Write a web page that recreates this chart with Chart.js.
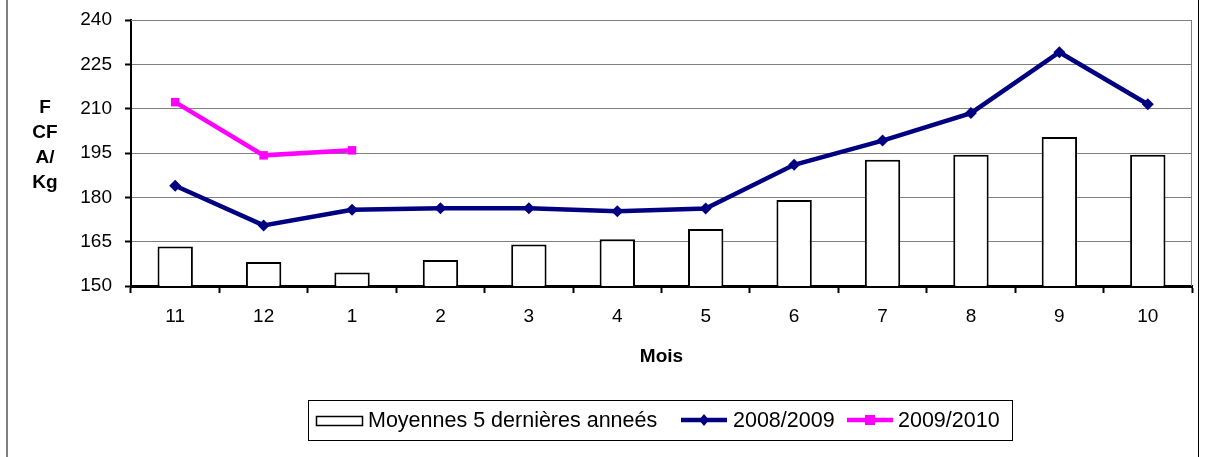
<!DOCTYPE html>
<html>
<head>
<meta charset="utf-8">
<script src="https://cdn.jsdelivr.net/npm/chart.js@4.4.1/dist/chart.umd.min.js"></script>
<style>
  html, body { margin: 0; padding: 0; background: #fff; }
  canvas { display: block; }
</style>
</head>
<body>
<canvas id="c" width="1206" height="457"></canvas>
<script>
const months = ['11', '12', '1', '2', '3', '4', '5', '6', '7', '8', '9', '10'];
const moyennes = [163.4, 158.1, 154.6, 158.8, 164.0, 165.8, 169.3, 179.1, 192.7, 194.4, 200.4, 194.4];
const s2008 = [183.9, 170.5, 175.8, 176.3, 176.3, 175.3, 176.2, 191.0, 199.2, 208.5, 229.1, 211.5];
const s2009 = [212.2, 194.2, 195.9, null, null, null, null, null, null, null, null, null];
const yTicks = [150, 165, 180, 195, 210, 225, 240];
const labels = ['Moyennes 5 dernières anneés', '2008/2009', '2009/2010'];
const yTitle = ['F', 'CF', 'A/', 'Kg'];
const xTitle = 'Mois';

const FONT = '"Liberation Sans", Arial, sans-serif';

const decor = {
  id: 'decor',
  beforeDraw(chart) {
    const ctx = chart.ctx;
    ctx.save();
    ctx.fillStyle = '#fff';
    ctx.fillRect(0, 0, chart.width, chart.height);
    ctx.fillStyle = '#808080';
    ctx.fillRect(6, 0, 2, chart.height);
    ctx.fillStyle = '#000';
    ctx.fillRect(1198, 0, 1, chart.height);
    ctx.restore();
  },
  beforeDatasetsDraw(chart) {
    const ctx = chart.ctx, a = chart.chartArea;
    ctx.save();
    ctx.strokeStyle = '#808080';
    ctx.lineWidth = 1;
    ctx.beginPath();
    ctx.moveTo(a.left, a.top + 0.5);
    ctx.lineTo(a.right - 0.5, a.top + 0.5);
    ctx.lineTo(a.right - 0.5, a.bottom);
    ctx.stroke();
    ctx.restore();
  },
  afterDraw(chart) {
    const ctx = chart.ctx;
    ctx.save();
    ctx.fillStyle = '#000';
    ctx.textAlign = 'center';
    ctx.textBaseline = 'middle';
    ctx.font = 'bold 19px ' + FONT;
    yTitle.forEach((t, i) => ctx.fillText(t, 45, 108 + i * 25));
    ctx.fillText(xTitle, (chart.chartArea.left + chart.chartArea.right) / 2, 357);

    const ds = chart.data.datasets;
    ctx.strokeStyle = '#000';
    ctx.lineWidth = 1;
    ctx.strokeRect(308.5, 400.5, 704, 40);
    ctx.font = '21.5px ' + FONT;
    ctx.textAlign = 'left';
    const cy = 421;
    ctx.strokeStyle = ds[0].borderColor;
    ctx.lineWidth = 1.5;
    ctx.strokeRect(316.5, 416.5, 46, 9);
    ctx.fillStyle = '#000';
    ctx.fillText(ds[0].label, 368, cy);
    function lineSwatch(x0, x1, color, shape, textX, text) {
      ctx.strokeStyle = color;
      ctx.lineWidth = 4.5;
      ctx.beginPath();
      ctx.moveTo(x0, cy - 1);
      ctx.lineTo(x1, cy - 1);
      ctx.stroke();
      ctx.fillStyle = color;
      const mx = (x0 + x1) / 2;
      if (shape === 'diamond') {
        ctx.beginPath();
        ctx.moveTo(mx, cy - 7);
        ctx.lineTo(mx + 5, cy - 1);
        ctx.lineTo(mx, cy + 5);
        ctx.lineTo(mx - 5, cy - 1);
        ctx.closePath();
        ctx.fill();
      } else {
        ctx.fillRect(mx - 5, cy - 6, 10, 10);
      }
      ctx.fillStyle = '#000';
      ctx.fillText(text, textX, cy);
    }
    lineSwatch(681, 727, ds[1].borderColor, 'diamond', 733, ds[1].label);
    lineSwatch(847, 893, ds[2].borderColor, 'square', 898, ds[2].label);
    ctx.restore();
  }
};

new Chart(document.getElementById('c'), {
  data: {
    labels: months,
    datasets: [
      {
        type: 'bar',
        label: labels[0],
        data: moyennes,
        backgroundColor: '#ffffff',
        borderColor: '#000000',
        borderWidth: 2,
        barPercentage: 0.8,
        categoryPercentage: 0.5,
        order: 3
      },
      {
        type: 'line',
        label: labels[1],
        data: s2008,
        borderColor: '#000080',
        backgroundColor: '#000080',
        borderWidth: 4.5,
        pointStyle: 'rectRot',
        pointRadius: 6,
        pointBorderWidth: 0,
        tension: 0,
        order: 2
      },
      {
        type: 'line',
        label: labels[2],
        data: s2009,
        borderColor: '#FF00FF',
        backgroundColor: '#FF00FF',
        borderWidth: 4.5,
        pointStyle: 'rect',
        pointRadius: 6,
        pointBorderWidth: 0,
        tension: 0,
        spanGaps: false,
        order: 1
      }
    ]
  },
  options: {
    responsive: false,
    animation: false,
    layout: { padding: { left: 0, right: 14, top: 20, bottom: 0 } },
    plugins: {
      legend: { display: false },
      tooltip: { enabled: false }
    },
    scales: {
      x: {
        type: 'category',
        offset: true,
        afterFit(scale) { scale.height = 171; scale.paddingLeft = 0; scale.paddingRight = 0; },
        grid: {
          offset: true,
          drawOnChartArea: false,
          drawTicks: true,
          tickLength: 7,
          tickColor: '#000',
          tickWidth: 2
        },
        border: { display: true, color: '#000', width: 3 },
        ticks: {
          color: '#000',
          padding: 12,
          maxRotation: 0,
          font: { family: FONT, size: 19 }
        }
      },
      y: {
        min: 150,
        max: 240,
        afterFit(scale) { scale.width = 131; scale.paddingTop = 0; scale.paddingBottom = 0; },
        afterBuildTicks(scale) { scale.ticks = yTicks.map(v => ({ value: v })); },
        grid: {
          color: '#808080',
          lineWidth: 1,
          drawTicks: true,
          tickLength: 6,
          tickColor: '#000',
          tickWidth: 2
        },
        border: { display: true, color: '#000', width: 2 },
        ticks: {
          color: '#000',
          padding: 13,
          font: { family: FONT, size: 19 }
        }
      }
    }
  },
  plugins: [decor]
});
</script>
</body>
</html>
